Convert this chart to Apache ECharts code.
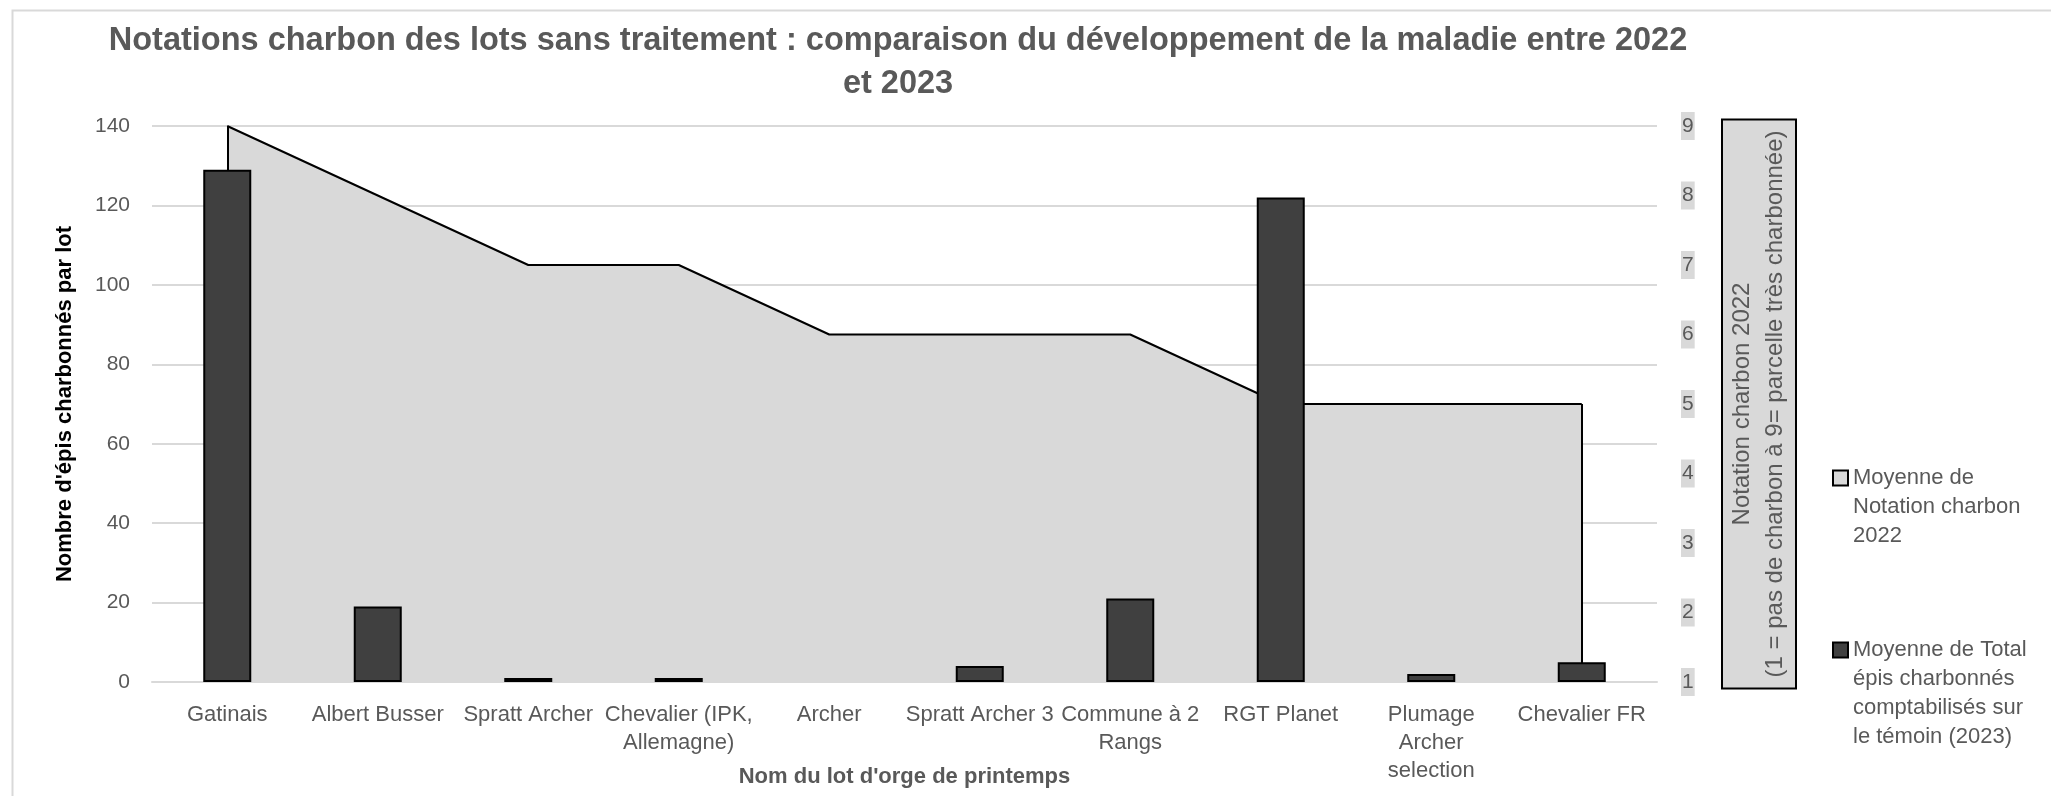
<!DOCTYPE html>
<html>
<head>
<meta charset="utf-8">
<script src="https://cdn.jsdelivr.net/npm/echarts@6/dist/echarts.min.js"></script>
<style>
html,body{margin:0;padding:0;background:#fff;}
#chart{width:2051px;height:796px;}
</style>
</head>
<body>
<div id="chart"></div>
<script>
// ---- Data ----
const categories = [
  'Gatinais', 'Albert Busser', 'Spratt Archer', 'Chevalier (IPK,\nAllemagne)', 'Archer',
  'Spratt Archer 3', 'Commune à 2\nRangs', 'RGT Planet', 'Plumage\nArcher\nselection', 'Chevalier FR'
];
const notation2022 = [9, 8, 7, 7, 6, 6, 6, 5, 5, 5];
const epis2023 = [129, 19, 1, 1, 0, 4, 21, 122, 2, 5];
const leftTicks = { min: 0, max: 140, interval: 20 };
const rightTicks = { min: 1, max: 9, interval: 1 };
const seriesNames = [
  'Moyenne de\nNotation charbon\n2022',
  'Moyenne de Total\népis charbonnés\ncomptabilisés sur\nle témoin (2023)'
];
const titleText = 'Notations charbon des lots sans traitement : comparaison du développement de la maladie entre 2022\net 2023';
const yLeftName = "Nombre d'épis charbonnés par lot";
const yRightName = 'Notation charbon 2022\n(1 = pas de charbon à 9= parcelle très charbonnée)';
const xName = "Nom du lot d'orge de printemps";

// ---- Chart ----
const FONT = 'Liberation Sans, Arial, sans-serif';
const GREY = '#595959';
const chart = echarts.init(document.getElementById('chart'), null, { renderer: 'canvas' });
const last = categories.length - 1;

const legendLine = 29;
const legendFirstLineY = [478, 650];
function lines(s) { return s.split('\n').length; }

chart.setOption({
  animation: false,
  backgroundColor: '#ffffff',
  graphic: [{
    type: 'rect', left: 10, top: 8, silent: true,
    shape: { width: 2100, height: 900 },
    style: { fill: 'none', stroke: '#d9d9d9', lineWidth: 2 }
  }],
  title: {
    text: titleText,
    left: 893, top: 15, textAlign: 'center',
    textStyle: { fontFamily: FONT, fontWeight: 'bold', fontSize: 32.5, color: GREY, lineHeight: 43 }
  },
  grid: { left: 152, right: 394, top: 126, bottom: 114, containLabel: false, outerBoundsMode: 'none' },
  legend: seriesNames.map((n, i) => ({
    orient: 'vertical', left: 1832,
    top: legendFirstLineY[i] - (2 * lines(n) - 1) * legendLine / 2,
    padding: 0, itemWidth: 15, itemHeight: 15,
    formatter: name => '\n'.repeat(lines(name) - 1) + name,
    textStyle: { fontFamily: FONT, fontSize: 22, color: GREY, lineHeight: legendLine },
    data: [{
      name: n, icon: 'rect',
      itemStyle: { color: i === 0 ? '#d9d9d9' : '#404040', borderColor: '#000', borderWidth: 2 }
    }]
  })),
  xAxis: {
    type: 'category', data: categories, boundaryGap: true,
    name: xName, nameLocation: 'middle', nameGap: 84, nameMoveOverlap: false,
    nameTextStyle: { fontFamily: FONT, fontWeight: 'bold', fontSize: 22, color: GREY },
    axisLine: { show: true, lineStyle: { color: '#d9d9d9', width: 2 } },
    axisTick: { show: false },
    axisLabel: { interval: 0, margin: 19, fontFamily: FONT, fontSize: 22, color: GREY, lineHeight: 28 }
  },
  yAxis: [{
    type: 'value', min: leftTicks.min, max: leftTicks.max, interval: leftTicks.interval,
    name: yLeftName, nameLocation: 'middle', nameGap: 76, nameRotate: 90,
    nameTextStyle: { fontFamily: FONT, fontWeight: 'bold', fontSize: 22, color: '#000' },
    axisLine: { show: false }, axisTick: { show: false },
    axisLabel: { margin: 22, fontFamily: FONT, fontSize: 21, color: GREY },
    splitLine: { show: true, lineStyle: { color: '#d9d9d9', width: 2 } }
  }, {
    type: 'value', position: 'right', min: rightTicks.min, max: rightTicks.max, interval: rightTicks.interval,
    name: yRightName, nameLocation: 'middle', nameGap: 66, nameRotate: 90,
    nameTextStyle: {
      fontFamily: FONT, fontSize: 24, color: GREY, lineHeight: 33, align: 'center',
      backgroundColor: '#d9d9d9', borderColor: '#000', borderWidth: 2, padding: [3, 10, 3, 10]
    },
    axisLine: { show: false }, axisTick: { show: false },
    axisLabel: { margin: 24, fontFamily: FONT, fontSize: 21, color: GREY, backgroundColor: '#d9d9d9', padding: [4, 1, 3, 1] },
    splitLine: { show: false }
  }],
  series: [{
    name: seriesNames[0], type: 'line', yAxisIndex: 1, data: notation2022,
    symbol: 'none', lineStyle: { color: '#000', width: 2 },
    itemStyle: { color: '#d9d9d9' },
    areaStyle: { color: '#d9d9d9', opacity: 1, origin: 'start' },
    markLine: {
      silent: true, z: 2, symbol: ['none', 'none'], label: { show: false },
      lineStyle: { color: '#000', type: 'solid', width: 2 },
      data: [
        [{ coord: [0, rightTicks.min] }, { coord: [0, notation2022[0]] }],
        [{ coord: [last, rightTicks.min] }, { coord: [last, notation2022[last]] }]
      ]
    },
    z: 1
  }, {
    name: seriesNames[1], type: 'bar', yAxisIndex: 0,
    data: epis2023.map(v => v === 0 ? { value: v, itemStyle: { borderWidth: 0 } } : v),
    barWidth: 48,
    itemStyle: { color: '#404040', borderColor: '#000', borderWidth: 2 },
    z: 3
  }]
});
</script>
</body>
</html>
